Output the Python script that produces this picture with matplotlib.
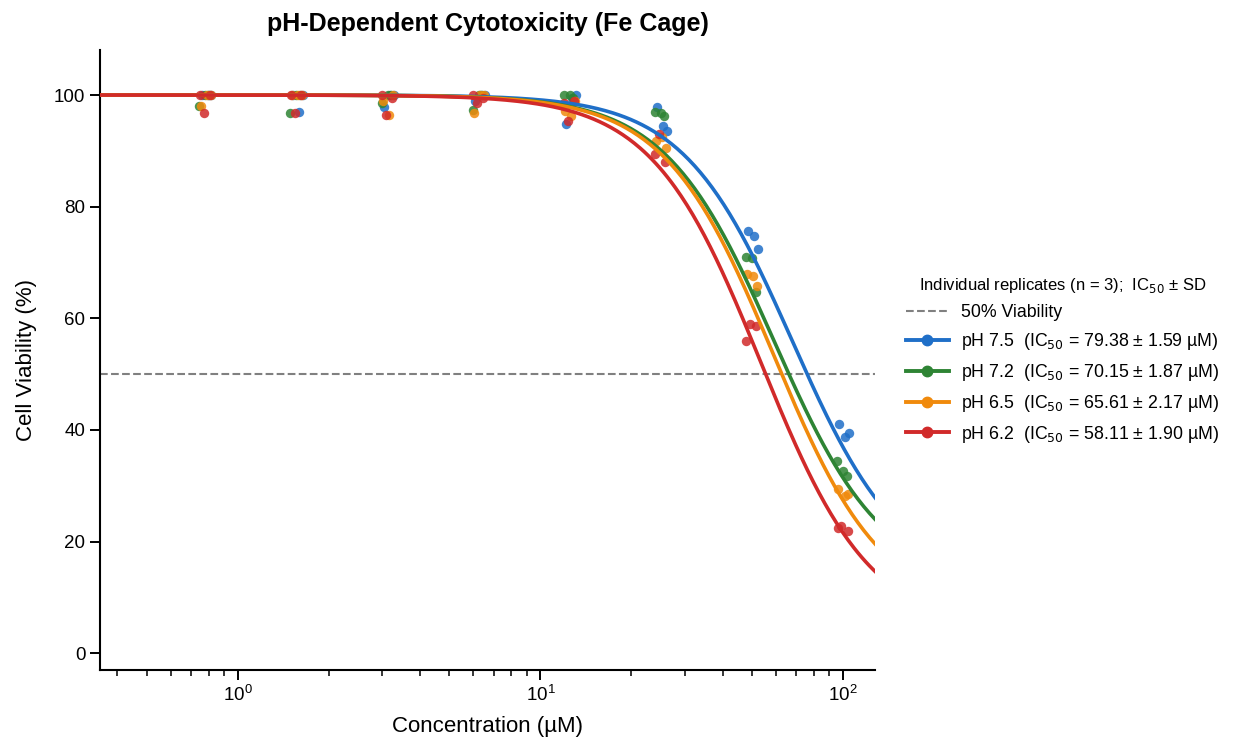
import numpy as np
import matplotlib
matplotlib.use('Agg')
import matplotlib.pyplot as plt
from matplotlib.lines import Line2D

plt.rcParams['font.family'] = ['Liberation Sans', 'DejaVu Sans']

# concentrations (uM)
conc = [0.78125, 1.5625, 3.125, 6.25, 12.5, 25, 50, 100]

labels = ['pH 7.5', 'pH 7.2', 'pH 6.5', 'pH 6.2']
ic50_txt = ['79.38 ± 1.59', '70.15 ± 1.87', '65.61 ± 2.17', '58.11 ± 1.90']
colors = ['#1f6fc8', '#2e8434', '#f08a0c', '#d12a2a']

# replicate viability (%) per concentration, 3 replicates each
ph75 = [[100, 100, 100], [100, 97.0, 100], [97.8, 100, 100], [99.0, 100, 100],
        [94.8, 99.5, 100], [97.8, 94.5, 93.5], [75.6, 74.7, 72.4], [41.0, 38.7, 39.5]]
ph72 = [[98.0, 100, 100], [96.7, 100, 100], [98.6, 100, 100], [97.3, 100, 100],
        [100, 100, 99.5], [96.9, 96.7, 96.2], [71.0, 70.8, 64.7], [34.4, 32.6, 31.7]]
ph65 = [[98.0, 100, 100], [100, 100, 100], [99.0, 96.5, 100], [96.8, 100, 100],
        [97.2, 96.3, 99.0], [91.7, 92.5, 90.5], [67.9, 67.6, 65.8], [29.4, 28.1, 28.5]]
ph62 = [[96.7, 100, 100], [96.7, 100, 100], [96.5, 99.5, 100], [98.5, 99.5, 100],
        [95.3, 99.0, 98.5], [93.0, 88.0, 89.4], [59.0, 58.6, 55.9], [22.8, 21.9, 22.4]]
reps = [ph75, ph72, ph65, ph62]

# horizontal jitter of replicates (log10 units)
jitter = [[-0.012, 0.008, 0.02], [-0.02, 0.0, 0.012], [-0.015, 0.005, 0.018], [-0.005, 0.015, -0.018]]

# 4-parameter logistic fit parameters
fit_ec50 = [67.9, 59.1, 58.9, 53.6]
fit_hill = [2.4, 2.4, 2.4, 2.4]
fit_bottom = [12.0, 12.0, 7.0, 4.0]


def logistic(x, ec50, h, bottom):
    return bottom + (100.0 - bottom) / (1.0 + (x / ec50) ** h)


fig = plt.figure(figsize=(12.33, 7.41), dpi=100)
ax = fig.add_axes([0.081, 0.096, 0.629, 0.836])

xs = np.logspace(np.log10(0.35), np.log10(128), 400)
ax.axhline(50, color='grey', ls='--', lw=1.5, zorder=1)

for i in range(4):
    xv = []
    yv = []
    for j, c in enumerate(conc):
        for k in range(3):
            xv.append(c * 10 ** jitter[i][k])
            yv.append(reps[i][j][k])
    ax.scatter(xv, yv, s=46, color=colors[i], alpha=0.85, lw=0, zorder=2)

for i in range(4):
    ax.plot(xs, logistic(xs, fit_ec50[i], fit_hill[i], fit_bottom[i]), color=colors[i], lw=2.6, zorder=3)

ax.set_xscale('log')
ax.set_xlim(0.35, 128)
ax.set_ylim(-3, 108)
ax.set_yticks([0, 20, 40, 60, 80, 100])
ax.spines['top'].set_visible(False)
ax.spines['right'].set_visible(False)
ax.spines['left'].set_linewidth(1.5)
ax.spines['bottom'].set_linewidth(1.5)
ax.tick_params(labelsize=13.5, width=1.4, length=7)
ax.tick_params(which='minor', width=1.1, length=4.5)
ax.set_xlabel('Concentration (µM)', fontsize=16, labelpad=8)
ax.set_ylabel('Cell Viability (%)', fontsize=16, labelpad=12)
ax.set_title('pH-Dependent Cytotoxicity (Fe Cage)', fontsize=18, fontweight='bold', pad=14)

handles = [Line2D([0], [0], color='grey', ls='--', lw=1.5)]
names = ['50% Viability']
for i in range(4):
    handles.append(Line2D([0], [0], color=colors[i], lw=2.8, marker='o', markersize=7.5))
    names.append(labels[i] + '  (IC$_{50}$ = ' + ic50_txt[i] + ' µM)')
leg = ax.legend(handles, names, loc='center left', bbox_to_anchor=(1.019, 0.50), frameon=False,
                fontsize=12.8, title='Individual replicates (n = 3);  IC$_{50}$ ± SD', title_fontsize=12,
                handlelength=2.4, handletextpad=0.7, labelspacing=0.55)

fig.savefig('out.png', dpi=100)
